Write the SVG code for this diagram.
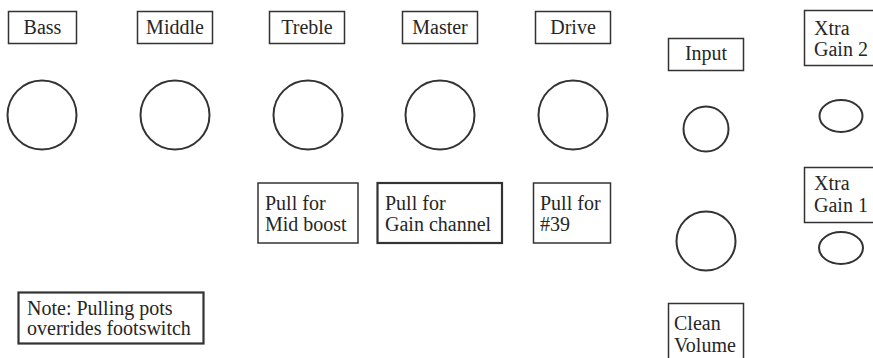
<svg xmlns="http://www.w3.org/2000/svg" width="873" height="358" viewBox="0 0 873 358">
<style>
rect.b{fill:#fff;stroke:#333;stroke-width:1.5}
rect.t{fill:#fff;stroke:#333;stroke-width:2.2}
.k{fill:none;stroke:#333;stroke-width:2}
text{font-family:'Liberation Serif','Times New Roman',Times,serif;font-size:20px;fill:#262626}
.c{text-anchor:middle}
</style>
<rect width="873" height="358" fill="#fff"/>
<g id="bass"><rect class="b" x="8.5" y="11.5" width="68" height="32"/><text class="c" x="42.5" y="34">Bass</text><circle class="k" cx="42" cy="115" r="34.5"/></g>
<g id="middle"><rect class="b" x="137.5" y="11.5" width="75" height="32"/><text class="c" x="175" y="34">Middle</text><circle class="k" cx="175" cy="115" r="34.5"/></g>
<g id="treble"><rect class="b" x="269.5" y="11.5" width="75" height="32"/><text class="c" x="307" y="34">Treble</text><circle class="k" cx="308" cy="115" r="34.5"/></g>
<g id="master"><rect class="b" x="402.5" y="11.5" width="75" height="32"/><text class="c" x="440" y="34">Master</text><circle class="k" cx="440" cy="115" r="34.5"/></g>
<g id="drive"><rect class="b" x="535.5" y="11.5" width="75" height="32"/><text class="c" x="573" y="34">Drive</text><circle class="k" cx="573" cy="115" r="34.5"/></g>
<g id="input"><rect class="b" x="668.5" y="38.5" width="75" height="32"/><text class="c" x="706" y="60">Input</text><circle class="k" cx="706" cy="129" r="22.5"/></g>
<g id="xtra-gain-2"><rect class="b" x="804.5" y="10.5" width="80" height="55"/><text x="814" y="35">Xtra</text><text x="814" y="56">Gain 2</text><ellipse class="k" cx="841" cy="116" rx="21.5" ry="16"/></g>
<g id="xtra-gain-1"><rect class="b" x="804.5" y="167.5" width="80" height="55"/><text x="814" y="190">Xtra</text><text x="814" y="212">Gain 1</text><ellipse class="k" cx="841" cy="248" rx="22" ry="16"/></g>
<g id="clean-volume"><circle class="k" cx="706" cy="241" r="29.5"/><rect class="b" x="668.5" y="303.5" width="75" height="70"/><text x="674" y="330">Clean</text><text x="674" y="352">Volume</text></g>
<g id="pull-mid"><rect class="b" x="258" y="183" width="100" height="60"/><text x="265" y="210">Pull for</text><text x="265" y="231">Mid boost</text></g>
<g id="pull-gain"><rect class="t" x="377.5" y="183" width="124.5" height="60"/><text x="385" y="210">Pull for</text><text x="385" y="231">Gain channel</text></g>
<g id="pull-39"><rect class="b" x="533.5" y="183" width="77" height="60"/><text x="540" y="210">Pull for</text><text x="540" y="231">#39</text></g>
<g id="note"><rect class="t" x="18.5" y="292.5" width="185" height="51"/><text x="27" y="315">Note: Pulling pots</text><text x="27" y="335">overrides footswitch</text></g>
<g id="connectors"/>
</svg>
